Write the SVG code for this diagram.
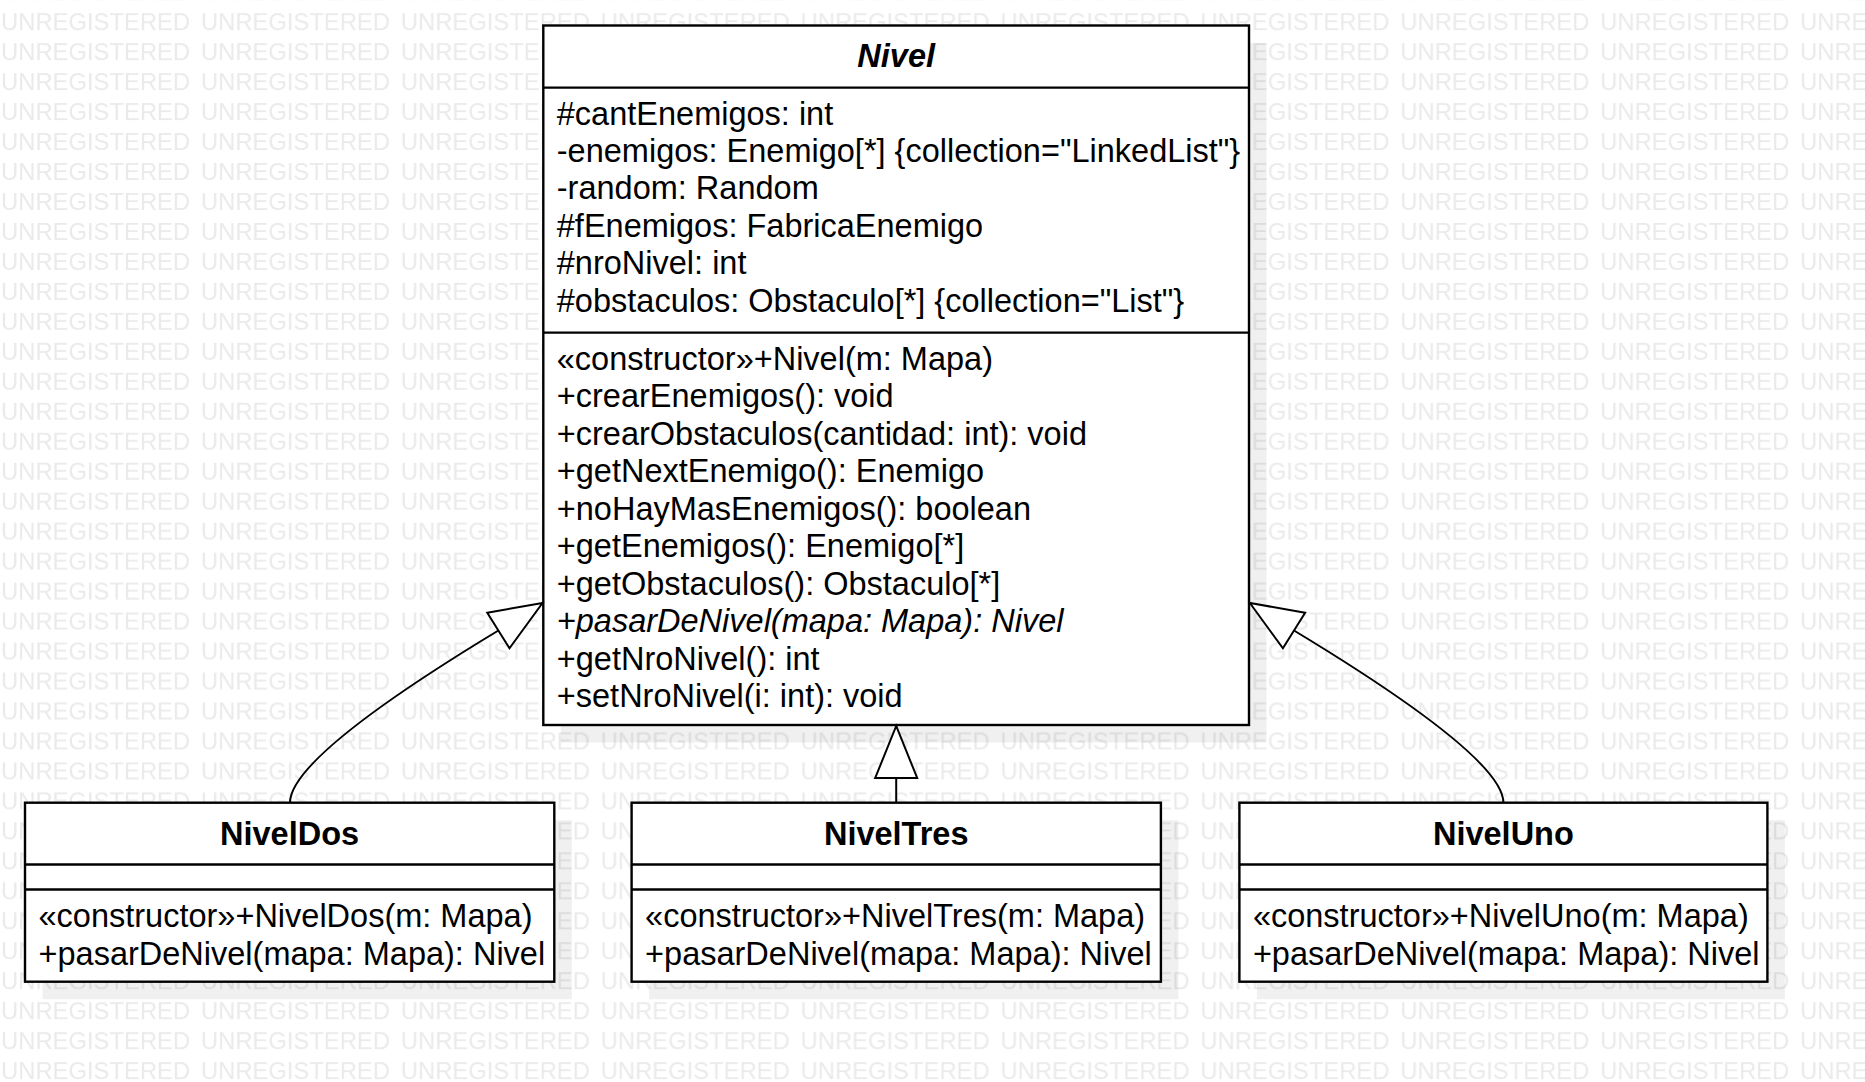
<svg xmlns="http://www.w3.org/2000/svg" width="1865" height="1082" viewBox="0 0 1865 1082">
<style>
.bg{fill:#ffffff}
.wm{font-family:"Liberation Sans",Arial,sans-serif;font-size:23.8px;fill:#eaeaea}
.shadow{fill:#000000;fill-opacity:0.06}
.box{fill:#ffffff;stroke:#000000;stroke-width:2.4}
.sep{stroke:#000000;stroke-width:2.4}
.t{font-family:"Liberation Sans",Arial,sans-serif;font-size:32.5px;fill:#000000}
.title{font-weight:bold;text-anchor:middle}
.abs{font-style:italic}
.edge{fill:none;stroke:#000000;stroke-width:2}
</style>
<defs>
<pattern id="wmp" patternUnits="userSpaceOnUse" x="0" y="1.2" width="199.9" height="29.97">
<text class="wm" x="1" y="29.3">UNREGISTERED</text>
</pattern>
<marker id="gen" markerUnits="userSpaceOnUse" markerWidth="60" markerHeight="50" refX="54" refY="23" orient="auto" overflow="visible">
<path d="M54,23 L2,2 L2,44 Z" fill="#ffffff" stroke="#000000" stroke-width="2"/>
</marker>
</defs>
<rect class="bg" x="0" y="0" width="1865" height="1082"/>
<rect id="watermark" x="0" y="0" width="1865" height="1082" fill="url(#wmp)"/>

<g id="Nivel">
<rect class="shadow" x="560.8" y="43" width="705.7" height="699.5"/>
<rect class="box" x="543.3" y="25.5" width="705.7" height="699.5"/>
<line class="sep" x1="543.3" y1="87.6" x2="1249" y2="87.6"/>
<line class="sep" x1="543.3" y1="332.6" x2="1249" y2="332.6"/>
<text class="t title abs" x="896.2" y="66.5">Nivel</text>
<text class="t" x="556.8" y="124.5">#cantEnemigos: int</text>
<text class="t" x="556.8" y="161.9">-enemigos: Enemigo[*] {collection="LinkedList"}</text>
<text class="t" x="556.8" y="199.3">-random: Random</text>
<text class="t" x="556.8" y="236.7">#fEnemigos: FabricaEnemigo</text>
<text class="t" x="556.8" y="274.1">#nroNivel: int</text>
<text class="t" x="556.8" y="311.5">#obstaculos: Obstaculo[*] {collection="List"}</text>
<text class="t" x="556.8" y="369.5">«constructor»+Nivel(m: Mapa)</text>
<text class="t" x="556.8" y="407">+crearEnemigos(): void</text>
<text class="t" x="556.8" y="444.5">+crearObstaculos(cantidad: int): void</text>
<text class="t" x="556.8" y="482">+getNextEnemigo(): Enemigo</text>
<text class="t" x="556.8" y="519.5">+noHayMasEnemigos(): boolean</text>
<text class="t" x="556.8" y="557">+getEnemigos(): Enemigo[*]</text>
<text class="t" x="556.8" y="594.5">+getObstaculos(): Obstaculo[*]</text>
<text class="t abs" x="556.8" y="632">+pasarDeNivel(mapa: Mapa): Nivel</text>
<text class="t" x="556.8" y="669.5">+getNroNivel(): int</text>
<text class="t" x="556.8" y="707">+setNroNivel(i: int): void</text>
</g>

<g id="NivelDos">
<rect class="shadow" x="42.5" y="820.2" width="529.3" height="179"/>
<rect class="box" x="25" y="802.7" width="529.3" height="179"/>
<line class="sep" x1="25" y1="864.5" x2="554.3" y2="864.5"/>
<line class="sep" x1="25" y1="889.5" x2="554.3" y2="889.5"/>
<text class="t title" x="289.6" y="844.7">NivelDos</text>
<text class="t" x="38.5" y="927">«constructor»+NivelDos(m: Mapa)</text>
<text class="t" x="38.5" y="964.5">+pasarDeNivel(mapa: Mapa): Nivel</text>
</g>

<g id="NivelTres">
<rect class="shadow" x="649.1" y="820.2" width="529.3" height="179"/>
<rect class="box" x="631.6" y="802.7" width="529.3" height="179"/>
<line class="sep" x1="631.6" y1="864.5" x2="1160.9" y2="864.5"/>
<line class="sep" x1="631.6" y1="889.5" x2="1160.9" y2="889.5"/>
<text class="t title" x="896.2" y="844.7">NivelTres</text>
<text class="t" x="645.1" y="927">«constructor»+NivelTres(m: Mapa)</text>
<text class="t" x="645.1" y="964.5">+pasarDeNivel(mapa: Mapa): Nivel</text>
</g>

<g id="NivelUno">
<rect class="shadow" x="1256.9" y="820.2" width="528" height="179"/>
<rect class="box" x="1239.4" y="802.7" width="528" height="179"/>
<line class="sep" x1="1239.4" y1="864.5" x2="1767.4" y2="864.5"/>
<line class="sep" x1="1239.4" y1="889.5" x2="1767.4" y2="889.5"/>
<text class="t title" x="1503.4" y="844.7">NivelUno</text>
<text class="t" x="1252.9" y="927">«constructor»+NivelUno(m: Mapa)</text>
<text class="t" x="1252.9" y="964.5">+pasarDeNivel(mapa: Mapa): Nivel</text>
</g>

<g id="connectors">
<path class="edge" d="M 290 802.7 C 290 765, 395 693, 498.4 630.5 L 542.5 603" marker-end="url(#gen)"/>
<path class="edge" d="M 896.2 802.7 L 896.2 726" marker-end="url(#gen)"/>
<path class="edge" d="M 1503.4 802.7 C 1503.4 765, 1397.4 693, 1294 630.5 L 1249.9 603" marker-end="url(#gen)"/>
</g>
</svg>
